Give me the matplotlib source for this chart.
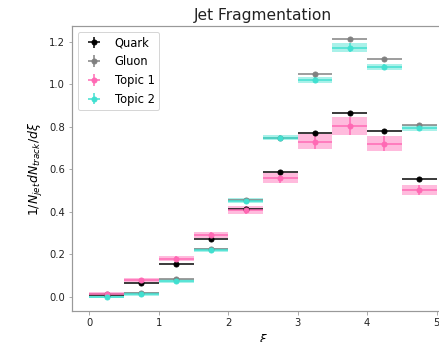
import numpy as np
import matplotlib
matplotlib.use('Agg')
import matplotlib.pyplot as plt

# bins in xi
bin_edges = [0.0, 0.5, 1.0, 1.5, 2.0, 2.5, 3.0, 3.5, 4.0, 4.5, 5.0]

quark = [0.01, 0.063, 0.157, 0.272, 0.415, 0.588, 0.77, 0.864, 0.78, 0.555]
gluon = [0.015, 0.02, 0.085, 0.225, 0.455, 0.75, 1.049, 1.213, 1.12, 0.809]
topic1 = [0.015, 0.08, 0.179, 0.292, 0.41, 0.559, 0.73, 0.806, 0.72, 0.503]
topic2 = [0.0, 0.013, 0.076, 0.222, 0.453, 0.748, 1.021, 1.173, 1.082, 0.794]
topic1_err = [0.008, 0.01, 0.012, 0.015, 0.018, 0.022, 0.035, 0.042, 0.035, 0.022]
topic2_err = [0.006, 0.008, 0.01, 0.01, 0.012, 0.012, 0.016, 0.02, 0.016, 0.014]

edges = np.array(bin_edges)
centers = (edges[1:] + edges[:-1]) / 2
half = (edges[1:] - edges[:-1]) / 2

fig = plt.figure(figsize=(439 / 72, 342 / 72), dpi=72)
ax = fig.add_axes([0.164, 0.091, 0.870, 0.833])

ax.errorbar(centers, quark, xerr=half, yerr=0.005, fmt='o', color='black',
            markersize=5, elinewidth=1.5, label='Quark')
ax.errorbar(centers, gluon, xerr=half, yerr=0.005, fmt='o', color='gray',
            markersize=5, elinewidth=1.5, label='Gluon')

for vals, errs, col, lab in [(topic1, topic1_err, 'hotpink', 'Topic 1'),
                             (topic2, topic2_err, 'turquoise', 'Topic 2')]:
    vals = np.array(vals)
    errs = np.array(errs)
    ax.bar(centers, 2 * errs, bottom=vals - errs, width=2 * half,
           color=col, alpha=0.45, linewidth=0)
    ax.errorbar(centers, vals, xerr=half, yerr=errs, fmt='o', color=col,
                markersize=5, elinewidth=1.5, label=lab)

ax.set_xlim(-0.25, 5.25)
ax.set_ylim(-0.066, 1.275)
for sp in ax.spines.values():
    sp.set_color('#999999')
    sp.set_linewidth(1.2)
ax.tick_params(colors='#999999', labelcolor='#222222', labelsize=10)
ax.set_title('Jet Fragmentation', fontsize=15.5, color='#222222')
ax.set_xlabel(r'$\xi$', fontsize=12)
ax.set_ylabel(r'$1/N_{jet} dN_{track}/d\xi$', fontsize=12.5)
ax.legend(loc='upper left', fontsize=11.5)

fig.savefig('out.png', dpi=72)
